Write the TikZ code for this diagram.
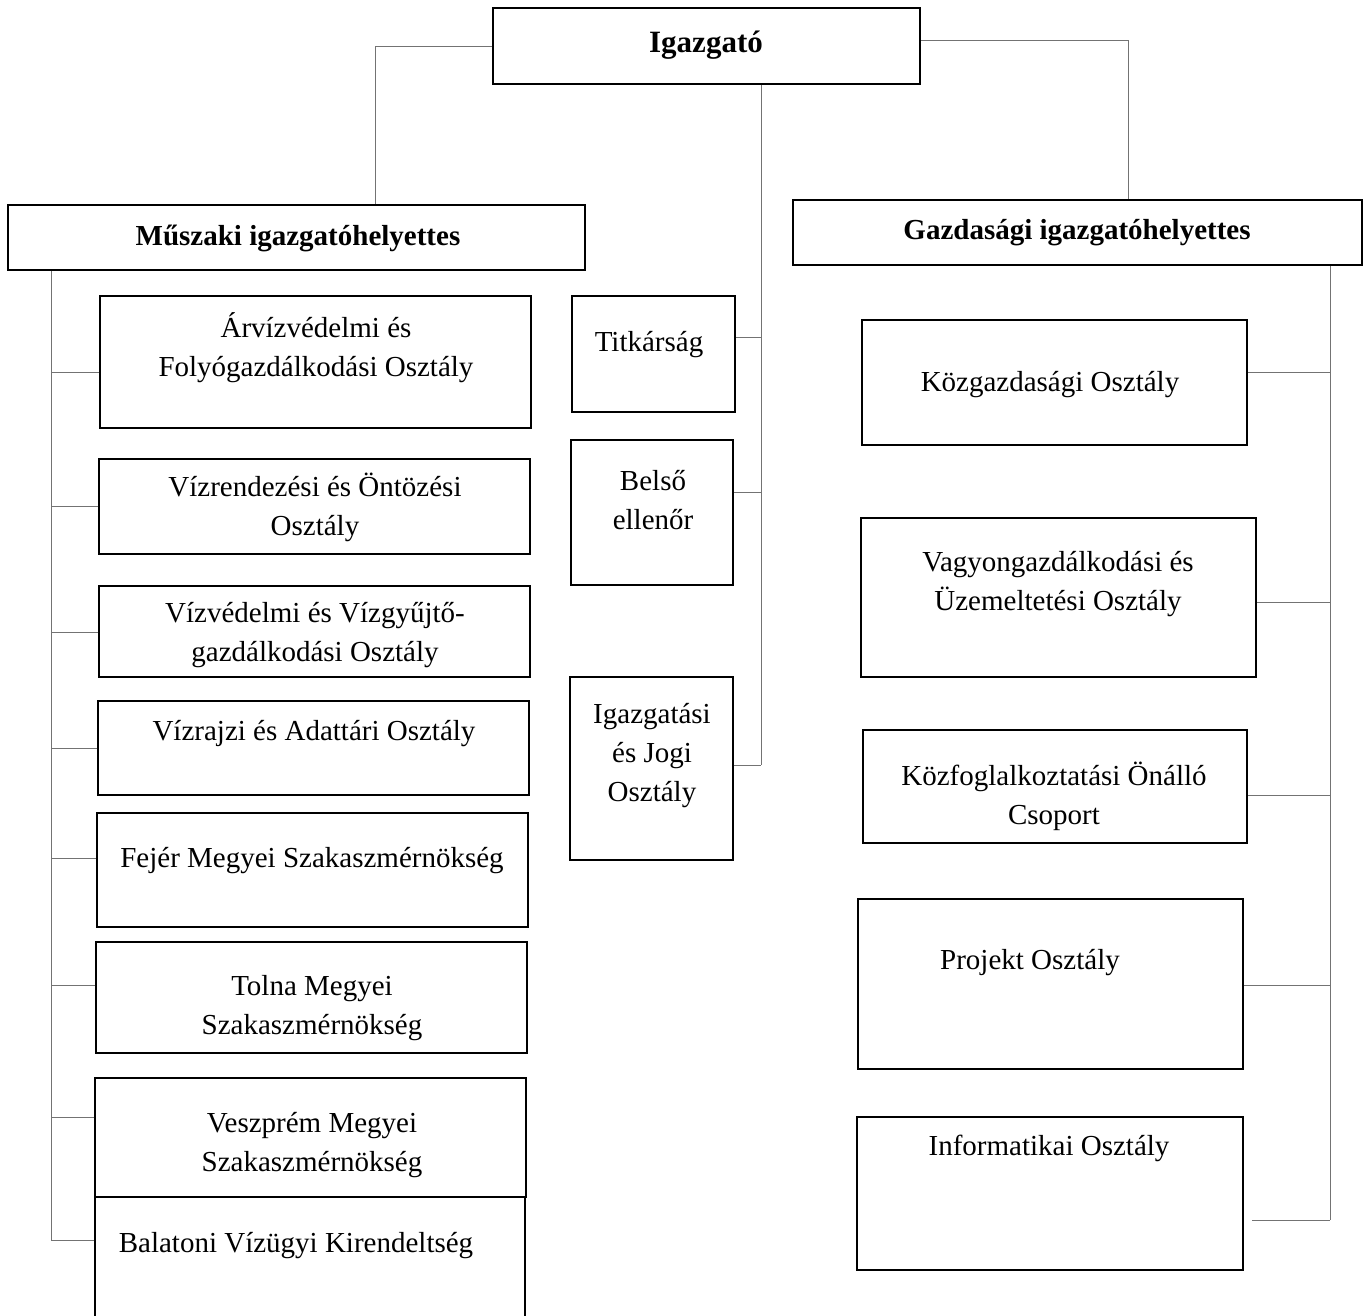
\documentclass[tikz,border=0pt]{standalone}
\usepackage{fontspec}
\setmainfont{Liberation Serif}
\usepackage{tikz}

\tikzset{
  box/.style={draw, line width=1.5pt, rectangle, inner sep=0pt},
  txt/.style={align=center, inner sep=0pt, yshift=-3pt, font=\fontsize{29}{39}\selectfont},
  head/.style={txt, font=\fontsize{29}{39}\selectfont\bfseries},
  conn/.style={draw=black!55, line width=1pt}
}

\begin{document}
\begin{tikzpicture}[x=1pt, y=-1pt]
  \useasboundingbox (0,0) rectangle (1370,1315);

  % top level
  \node[box, minimum width=427pt, minimum height=76pt] (director) at (706.5,46) {};
  \node[head, font=\fontsize{31}{39}\selectfont\bfseries] (director-t) at (706,42) {Igazgató};
  \node[box, minimum width=577pt, minimum height=65pt] (muszaki) at (296.5,237.5) {};
  \node[head] (muszaki-t) at (298,235) {Műszaki igazgatóhelyettes};
  \node[box, minimum width=569pt, minimum height=65pt] (gazd) at (1077.5,232.5) {};
  \node[head] (gazd-t) at (1077,230) {Gazdasági igazgatóhelyettes};

  % left column
  \node[box, minimum width=431pt, minimum height=132pt] (arviz) at (315.5,362) {};
  \node[txt] (arviz-t) at (316,345) {Árvízvédelmi és\\Folyógazdálkodási Osztály};
  \node[box, minimum width=431pt, minimum height=95pt] (vizrend) at (314.5,506.5) {};
  \node[txt] (vizrend-t) at (315,504) {Vízrendezési és Öntözési\\Osztály};
  \node[box, minimum width=431pt, minimum height=91pt] (vizved) at (314.5,631.5) {};
  \node[txt] (vizved-t) at (315,632) {Vízvédelmi és Vízgyűjtő-\\gazdálkodási Osztály};
  \node[box, minimum width=431pt, minimum height=94pt] (vizrajzi) at (313.5,748) {};
  \node[txt] (vizrajzi-t) at (314,731) {Vízrajzi és Adattári Osztály};
  \node[box, minimum width=431pt, minimum height=114pt] (fejer) at (312.5,870) {};
  \node[txt] (fejer-t) at (312,858) {Fejér Megyei Szakaszmérnökség};
  \node[box, minimum width=431pt, minimum height=111pt] (tolna) at (311.5,997.5) {};
  \node[txt] (tolna-t) at (312,1005) {Tolna Megyei\\Szakaszmérnökség};
  \node[box, minimum width=431pt, minimum height=119pt] (veszprem) at (310.5,1137.5) {};
  \node[txt] (veszprem-t) at (312,1142) {Veszprém Megyei\\Szakaszmérnökség};
  \node[box, minimum width=430pt, minimum height=136pt] (balaton) at (310,1265) {};
  \node[txt] (balaton-t) at (296,1243) {Balatoni Vízügyi Kirendeltség};

  % middle column
  \node[box, minimum width=163pt, minimum height=116pt] (titk) at (653.5,354) {};
  \node[txt] (titk-t) at (649,342) {Titkárság};
  \node[box, minimum width=162pt, minimum height=145pt] (belso) at (652,512.5) {};
  \node[txt] (belso-t) at (653,497) {Belső\\ellenőr};
  \node[box, minimum width=163pt, minimum height=183pt] (jogi) at (651.5,768.5) {};
  \node[txt] (jogi-t) at (652,753) {Igazgatási\\és Jogi\\Osztály};

  % right column
  \node[box, minimum width=385pt, minimum height=125pt] (kozgazd) at (1054.5,382.5) {};
  \node[txt] (kozgazd-t) at (1050,382) {Közgazdasági Osztály};
  \node[box, minimum width=395pt, minimum height=159pt] (vagyon) at (1058.5,597.5) {};
  \node[txt] (vagyon-t) at (1058,581) {Vagyongazdálkodási és\\Üzemeltetési Osztály};
  \node[box, minimum width=384pt, minimum height=113pt] (kozfogl) at (1055,786.5) {};
  \node[txt] (kozfogl-t) at (1054,793) {Közfoglalkoztatási Önálló\\Csoport};
  \node[box, minimum width=385pt, minimum height=170pt] (projekt) at (1050.5,984) {};
  \node[txt] (projekt-t) at (1030,960) {Projekt Osztály};
  \node[box, minimum width=386pt, minimum height=153pt] (inform) at (1050,1193.5) {};
  \node[txt] (inform-t) at (1049,1145) {Informatikai Osztály};

  % trunks
  \coordinate (ltop) at (muszaki.south -| 51,0);
  \coordinate (lbot) at (51,1240);
  \coordinate (mtop) at (director.south -| 761,0);
  \coordinate (mbot) at (761,765);
  \coordinate (rtop) at (gazd.south -| 1330,0);
  \coordinate (rbot) at (1330,1220);

  \draw[conn] (director.west) -| (muszaki.north -| 375,0);
  \draw[conn] (director.east |- 0,40) -| (gazd.north -| 1128,0);
  \draw[conn] (ltop) -- (lbot);
  \draw[conn] (mtop) -- (mbot);
  \draw[conn] (rtop) -- (rbot);

  \foreach \b/\y in {arviz/372, vizrend/506, vizved/632, vizrajzi/748,
                     fejer/858, tolna/985, veszprem/1117, balaton/1240}
    \draw[conn] (\b.west |- 0,\y) -- (ltop |- 0,\y);
  \foreach \b/\y in {titk/337, belso/492, jogi/765}
    \draw[conn] (\b.east |- 0,\y) -- (mtop |- 0,\y);
  \foreach \b/\y in {kozgazd/372, vagyon/602, kozfogl/795, projekt/985}
    \draw[conn] (\b.east |- 0,\y) -- (rtop |- 0,\y);
  \draw[conn] (rbot) -- ++(-78,0);
\end{tikzpicture}
\end{document}
